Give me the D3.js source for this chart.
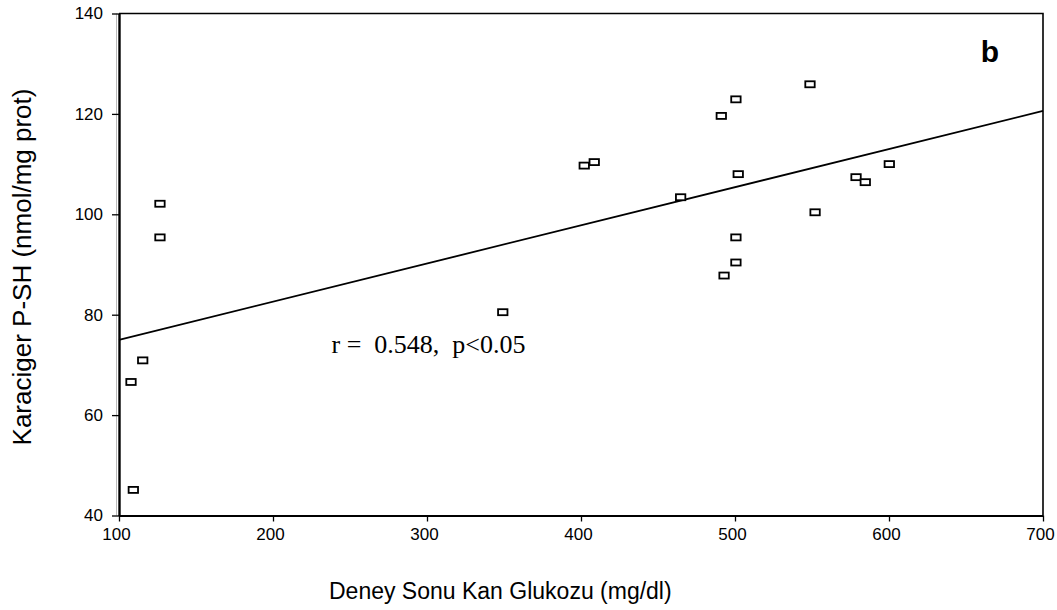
<!DOCTYPE html>
<html>
<head>
<meta charset="utf-8">
<script src="https://cdn.jsdelivr.net/npm/d3@7"></script>
<style>
  body { margin: 0; background: #fff; }
  svg { display: block; }
</style>
</head>
<body>
<div id="my_dataviz"></div>
<script>
// data
const glukoz = [126.6, 126.6, 115.4, 107.8, 109.3, 349.2, 402.1, 408.6, 464.7, 491.1,
                500.6, 502.1, 500.6, 500.6, 492.9, 548.7, 552.0, 578.6, 584.6, 600.2];
const psh    = [102.1, 95.4, 70.9, 66.6, 45.1, 80.5, 109.7, 110.4, 103.4, 119.6,
                122.9, 108.0, 95.4, 90.4, 87.8, 125.9, 100.4, 107.4, 106.4, 110.0];
const xTicks = [100, 200, 300, 400, 500, 600, 700];
const yTicks = [40, 60, 80, 100, 120, 140];
// trend line end points (x, y)
const fitX = [100, 700];
const fitY = [75.0, 120.6];

const margin = {top: 13.5, right: 14, bottom: 94.5, left: 119},
    width = 1057 - margin.left - margin.right,
    height = 610 - margin.top - margin.bottom;

document.addEventListener('DOMContentLoaded', function () {
  const svg = d3.select("#my_dataviz")
    .append("svg")
      .attr("width", 1057)
      .attr("height", 610)
    .append("g")
      .attr("transform", `translate(${margin.left}, ${margin.top})`);

  const x = d3.scaleLinear().domain([100, 700]).range([0, width]);
  const y = d3.scaleLinear().domain([40, 140]).range([height, 0]);

  // frame (top + right)
  svg.append("path")
    .attr("d", `M0,0H${width}V${height}`)
    .attr("fill", "none")
    .attr("stroke", "#000")
    .attr("stroke-width", 1.6);

  // faint shadow left of the y axis
  svg.append("line")
    .attr("x1", -2.5).attr("x2", -2.5)
    .attr("y1", 0).attr("y2", height)
    .attr("stroke", "#bbb")
    .attr("stroke-width", 1);

  // X axis
  const xAxis = svg.append("g")
    .attr("transform", `translate(0,${height})`)
    .call(d3.axisBottom(x).tickValues(xTicks).tickSize(6).tickSizeOuter(0).tickPadding(6));
  xAxis.select(".domain").attr("stroke-width", 2.2);
  xAxis.selectAll(".tick line").attr("stroke-width", 1.3);
  xAxis.selectAll("text")
    .attr("dx", "-3")
    .style("font-family", "'Liberation Sans', Arial, sans-serif")
    .style("font-size", "17px")
    .attr("fill", "#000");

  // Y axis
  const yAxis = svg.append("g")
    .call(d3.axisLeft(y).tickValues(yTicks).tickSize(7).tickSizeOuter(0).tickPadding(9));
  yAxis.select(".domain").attr("stroke-width", 2.4);
  yAxis.selectAll(".tick line").attr("stroke-width", 1.3);
  yAxis.selectAll("text")
    .style("font-family", "'Liberation Sans', Arial, sans-serif")
    .style("font-size", "17px")
    .attr("fill", "#000");

  // trend line
  svg.append("line")
    .attr("x1", x(fitX[0])).attr("y1", y(fitY[0]))
    .attr("x2", x(fitX[1])).attr("y2", y(fitY[1]))
    .attr("stroke", "#000")
    .attr("stroke-width", 1.8);

  // points
  const pts = glukoz.map(function(d, i) { return {g: d, p: psh[i]}; });
  svg.selectAll("myrect")
    .data(pts)
    .join("rect")
      .attr("x", function(d) { return x(d.g) - 4.7; })
      .attr("y", function(d) { return y(d.p) - 3; })
      .attr("width", 9.4)
      .attr("height", 6)
      .attr("fill", "#fff")
      .attr("stroke", "#000")
      .attr("stroke-width", 1.8);

  // annotation
  svg.append("text")
    .attr("x", 331.5 - margin.left)
    .attr("y", 353 - margin.top)
    .style("font-family", "'Liberation Serif', 'Times New Roman', serif")
    .style("font-size", "26px")
    .style("white-space", "pre")
    .attr("xml:space", "preserve")
    .text("r =  0.548,  p<0.05");

  svg.append("text")
    .attr("x", 990 - margin.left)
    .attr("y", 62 - margin.top)
    .attr("text-anchor", "middle")
    .style("font-family", "'Liberation Sans', Arial, sans-serif")
    .style("font-size", "30px")
    .style("font-weight", "bold")
    .text("b");

  // axis titles
  svg.append("text")
    .attr("x", 329 - margin.left)
    .attr("y", 599 - margin.top)
    .style("font-family", "'Liberation Sans', Arial, sans-serif")
    .style("font-size", "23px")
    .text("Deney Sonu Kan Glukozu (mg/dl)");

  svg.append("text")
    .attr("transform", `translate(${31 - margin.left},${267 - margin.top}) rotate(-90)`)
    .attr("text-anchor", "middle")
    .style("font-family", "'Liberation Sans', Arial, sans-serif")
    .style("font-size", "26px")
    .text("Karaciger P-SH (nmol/mg prot)");
});
</script>
</body>
</html>
